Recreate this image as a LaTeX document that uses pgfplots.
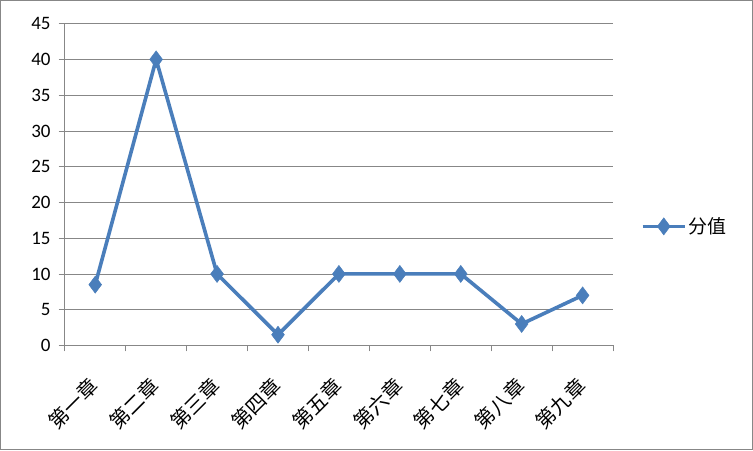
\documentclass[border=0pt]{standalone}
\usepackage{fontspec}
\setmainfont{Carlito}
\newfontfamily\cjk{Noto Sans CJK SC}
\usepackage{pgfplots}
\pgfplotsset{compat=1.18}
\definecolor{serblue}{HTML}{4A7EBB}
\definecolor{gridgray}{HTML}{878787}
\begin{document}
\begin{tikzpicture}[x=1bp,y=1bp]
\draw[gridgray, line width=1.2bp] (1,-1) rectangle (751,-449);
\begin{axis}[
  at={(65bp,-345bp)}, anchor=south west,
  scale only axis, width=547bp, height=321bp,
  xmin=-0.5, xmax=8.5, ymin=0, ymax=45,
  axis x line*=bottom, axis y line*=left,
  axis line style={gridgray, line width=0.8bp, -},
  xtick={0,...,8},
  xticklabels={第一章,第二章,第三章,第四章,第五章,第六章,第七章,第八章,第九章},
  major x tick style={draw=none},
  minor xtick={-0.5,0.5,...,8.5},
  minor tick style={gridgray, line width=0.8bp},
  minor tick length=6bp,
  xticklabel style={font=\cjk\fontsize{20}{22}\selectfont, anchor=center, inner sep=0bp, xshift=-22bp, yshift=-52bp, rotate=45},
  ytick={0,5,...,45},
  ymajorgrids,
  major grid style={gridgray, line width=0.8bp},
  ytick style={gridgray, line width=0.8bp},
  major tick length=6bp,
  tick align=outside,
  yticklabel style={font=\fontsize{19}{22}\selectfont, inner sep=0bp, xshift=-8bp},
  /pgf/number format/assume math mode=true,
  legend style={at={(1.045,0.37)}, anchor=west, draw=none, fill=none, font=\cjk\fontsize{19}{21}\selectfont},
  legend cell align=left,
  legend image code/.code={\draw[#1, mark repeat=2, mark phase=2] plot coordinates {(0bp,0bp) (21bp,0bp) (42bp,0bp)};},
  clip=false,
]
\addplot[serblue, line width=3.6bp, mark=diamond*, mark size=8.5bp, mark options={fill=serblue, draw=serblue, line width=0.5bp}]
  coordinates {(0,8.5) (1,40) (2,10) (3,1.5) (4,10) (5,10) (6,10) (7,3) (8,7)};
\addlegendentry{分值}
\end{axis}
\end{tikzpicture}
\end{document}
